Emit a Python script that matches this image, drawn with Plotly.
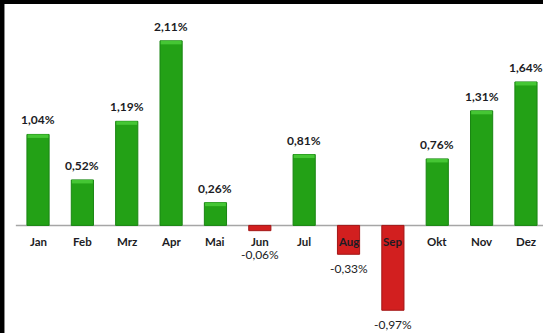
import plotly.graph_objects as go

# Monthly change in percent
months = ["Jan", "Feb", "Mrz", "Apr", "Mai", "Jun", "Jul", "Aug", "Sep", "Okt", "Nov", "Dez"]
values = [1.04, 0.52, 1.19, 2.11, 0.26, -0.06, 0.81, -0.33, -0.97, 0.76, 1.31, 1.64]

GREEN = "#23a116"
GREEN_EDGE = "#198512"
GREEN_CAP = "#45c634"
RED = "#d21f1f"
RED_EDGE = "#a31616"
TEXT = "#1c1c24"
FONT = "Lato"

x = list(range(len(months)))
fill = [GREEN if v >= 0 else RED for v in values]
edge = [GREEN_EDGE if v >= 0 else RED_EDGE for v in values]

fig = go.Figure()

# main bars
fig.add_trace(go.Bar(
    x=x, y=values, width=0.5,
    marker=dict(color=fill, line=dict(color=edge, width=1)),
    hoverinfo="skip", showlegend=False,
))

# light bevel cap at the top end of the rising bars
cap = 0.04
pos_x = [i for i, v in zip(x, values) if v > 0]
pos_v = [v for v in values if v > 0]
fig.add_trace(go.Bar(
    x=pos_x, y=[cap] * len(pos_x), base=[v - cap for v in pos_v], width=0.47,
    marker=dict(color=GREEN_CAP, line=dict(width=0)),
    hoverinfo="skip", showlegend=False,
))

annotations = []
for i, (m, v) in enumerate(zip(months, values)):
    label = f"{v:.2f}%".replace(".", ",")
    if v >= 0:
        annotations.append(dict(x=i, y=v, text=label, showarrow=False,
                                yanchor="bottom", yshift=5,
                                font=dict(family=FONT, size=12, color=TEXT, weight="bold")))
    else:
        annotations.append(dict(x=i, y=min(v, -0.17), text=label, showarrow=False,
                                yanchor="top", yshift=-5,
                                font=dict(family=FONT, size=12, color=TEXT, weight="normal")))
    # category labels just below the zero line
    annotations.append(dict(x=i, y=0, text=m, showarrow=False,
                            yanchor="top", yshift=-8,
                            font=dict(family=FONT, size=11.5, color=TEXT, weight="bold")))

shapes = [
    # zero line
    dict(type="line", xref="x", yref="y", x0=-0.5, x1=11.6, y0=0, y1=0,
         line=dict(color="#a6a6a6", width=1.5), layer="below"),
    # dark frame at the top and left
    dict(type="rect", xref="paper", yref="paper", x0=0, x1=4 / 543, y0=0, y1=1,
         fillcolor="black", line=dict(width=0), layer="above"),
    dict(type="line", xref="paper", yref="paper", x0=4.5 / 543, x1=4.5 / 543, y0=0, y1=1,
         line=dict(color="#8a8a8a", width=1), layer="above"),
    dict(type="rect", xref="paper", yref="paper", x0=0, x1=1, y0=1 - 4 / 333, y1=1,
         fillcolor="black", line=dict(width=0), layer="above"),
]

fig.update_layout(
    width=543, height=333,
    margin=dict(l=0, r=0, t=0, b=0),
    paper_bgcolor="white", plot_bgcolor="white",
    barmode="overlay",
    xaxis=dict(range=[-0.857, 11.384], visible=False, fixedrange=True),
    yaxis=dict(range=[-1.23, 2.577], visible=False, fixedrange=True),
    annotations=annotations,
    shapes=shapes,
)

fig.write_html("out.html")
